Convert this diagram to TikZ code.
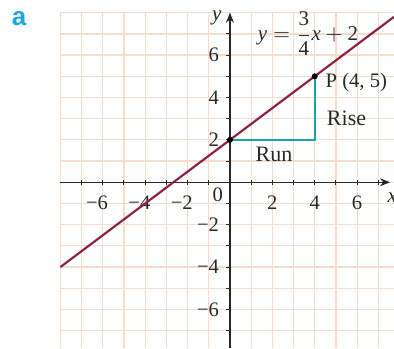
\documentclass[tikz,border=0pt]{standalone}
\usepackage{amsmath}
\usepackage{fontspec}
\setmainfont{Liberation Serif}
\newfontfamily\labelsans{Liberation Sans}
\usetikzlibrary{arrows.meta}
\definecolor{gridc}{RGB}{246,220,203}
\definecolor{linec}{RGB}{140,35,70}
\definecolor{tealc}{RGB}{22,168,160}
\definecolor{axisc}{RGB}{40,40,40}
\definecolor{labc}{RGB}{27,166,224}
\tikzset{
  gridline/.style={draw=gridc,line width=0.6pt},
  graphline/.style={draw=linec,line width=1.1pt},
  triline/.style={draw=tealc,line width=1.1pt},
  axisline/.style={draw=axisc,line width=0.6pt,-{Stealth[length=5pt,width=4pt]}},
  tickline/.style={draw=axisc,line width=0.5pt},
  numlab/.style={font=\fontsize{10.3}{12}\selectfont,text=axisc,inner sep=0pt},
  wordlab/.style={font=\fontsize{11}{13}\selectfont,text=axisc,inner sep=0pt},
  dotc/.style={circle,fill=black,inner sep=0pt,minimum size=3pt}
}
\begin{document}
\begin{tikzpicture}[x=10.6pt,y=10.6pt]
\useasboundingbox (-10.85,-7.82) rectangle (7.74,8.60);
\clip (-10.85,-7.82) rectangle (7.74,8.60);
% grid
\foreach \i in {-8,...,7} {
  \draw[gridline] (\i,-7.82) -- (\i,8);
}
\foreach \j in {-7,...,8} {
  \draw[gridline] (-8,\j) -- (7.74,\j);
}
% axes
\coordinate (xs) at (-8,0);
\coordinate (xe) at (7.55,0);
\coordinate (ys) at (0,-7.82);
\coordinate (ye) at (0,8.0);
\draw[axisline] (xs) -- (xe);
\draw[axisline] (ys) -- (ye);
\foreach \i in {-7,...,-1,1,2,...,7} {
  \draw[tickline] (\i,-0.13) -- (\i,0.12);
  \draw[tickline] (-0.17,\i) -- (0,\i);
}
% labels on axes
\foreach \i in {-6,-4,-2} {
  \pgfmathtruncatemacro{\a}{-\i}
  \node[numlab] (xl\i) at (\i,-0.98) {\llap{−}\a};
}
\foreach \i in {2,4,6} {
  \node[numlab] (xl\i) at (\i,-0.98) {\i};
}
\foreach \j in {2,4,6} {
  \node[numlab,anchor=east] (yl\j) at (-0.5,\j) {\j};
  \node[numlab,anchor=east] (ylm\j) at (-0.5,-\j) {−\j};
}
\node[numlab] (zero) at (-0.58,-0.6) {0};
\node[numlab,font=\fontsize{10.5}{12}\selectfont\itshape] (ylab) at (-0.62,7.75) {y};
\node[numlab,font=\fontsize{10.5}{12}\selectfont\itshape,anchor=west] (xlab) at (7.42,-0.72) {x};
% graph line
\coordinate (la) at (-8,-4);
\coordinate (lb) at (7.74,7.805);
\draw[graphline] (la) -- (lb);
% triangle
\coordinate (A) at (0,2);
\coordinate (C) at (4,2);
\coordinate (P) at (4,5);
\draw[triline] (A) -- (C) -- (P);
\node[dotc] (Adot) at (A) {};
\node[dotc] (Pdot) at (P) {};
% texts
\node[numlab,anchor=west] (Plab) at (4.5,4.72) {P (4, 5)};
\node[wordlab,anchor=west] (rise) at (4.56,3.03) {Rise};
\node[wordlab] (run) at (2.08,1.33) {Run};
\node[numlab,font=\fontsize{10.5}{12}\selectfont] (eq) at (3.68,7.0)
  {$\textit{y}=\dfrac{\textrm{3}}{\textrm{4}}\textit{x}+\textrm{2}$};
\node[font=\labelsans\bfseries\fontsize{13}{14}\selectfont,text=labc,inner sep=0pt] (alab) at (-9.95,7.7) {a};
\end{tikzpicture}
\end{document}
